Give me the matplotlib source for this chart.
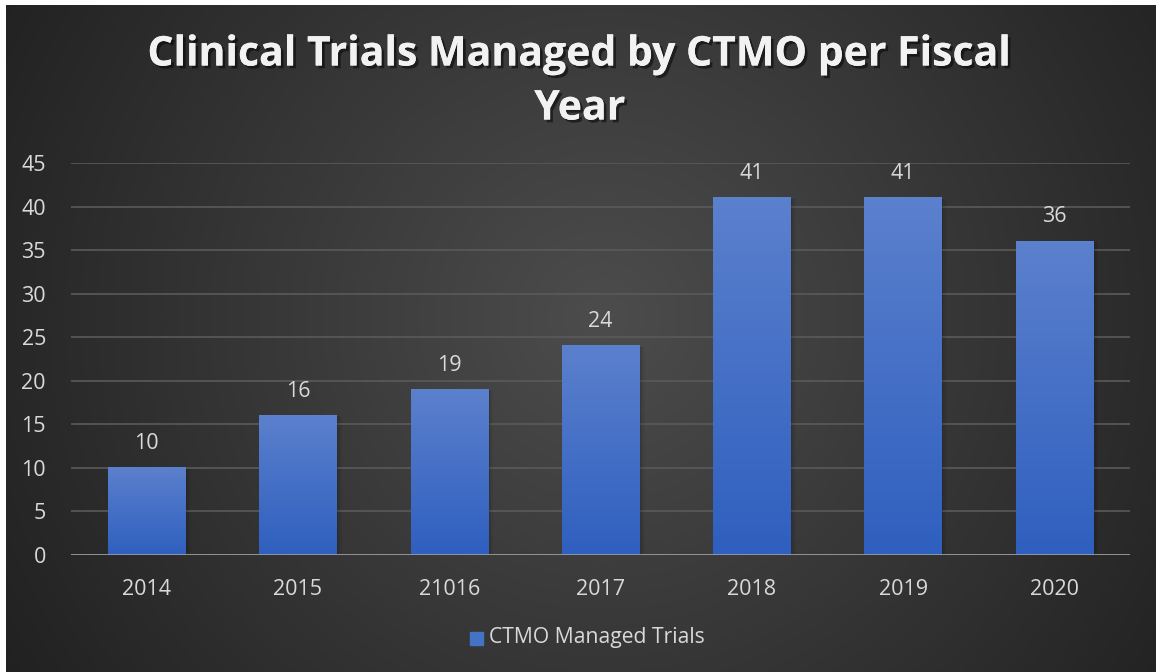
import matplotlib.pyplot as plt
import matplotlib.patheffects as pe
import numpy as np

years = ["2014", "2015", "21016", "2017", "2018", "2019", "2020"]
trials = [10, 16, 19, 24, 41, 41, 36]
series_name = "CTMO Managed Trials"
title = "Clinical Trials Managed by CTMO per Fiscal\nYear"

W, H = 1156, 672
fig = plt.figure(figsize=(W / 100, H / 100), dpi=100, facecolor="white")

# dark radial background (chart area of the original sits inside a small white margin)
bg = fig.add_axes([6 / W, 0, 1 - 6 / W, 1 - 5 / H])
yy, xx = np.mgrid[0:300, 0:520]
cx, cy = 270, 140
r = np.sqrt(((xx - cx) / 520) ** 2 + ((yy - cy) / 300) ** 2 * 0.35)
r = r / r.max()
shade = 0.30 - 0.17 * r
bg.imshow(np.dstack([shade] * 3), aspect="auto", extent=[0, 1, 0, 1])
bg.set_axis_off()

ax = fig.add_axes([71 / W, (H - 555) / H, (1130 - 71) / W, (555 - 163) / H])
ax.set_facecolor("none")
x = np.arange(len(years))
bars = ax.bar(x, trials, width=0.51, color="#4472c4", zorder=3)

# gradient fill + soft shadow on each bar
grad = np.linspace(0, 1, 100).reshape(-1, 1)
top = np.array([0x5b, 0x80, 0xcd]) / 255
bot = np.array([0x2f, 0x5f, 0xbf]) / 255
img = bot + (top - bot) * grad[:, :, None]
for b in bars:
    x0, w, h = b.get_x(), b.get_width(), b.get_height()
    for k, a in enumerate([0.10, 0.07, 0.04]):
        ax.bar(x0 + w / 2 + 0.012 * (k + 1), h - 0.1, width=w, color="black",
               alpha=a, zorder=2, linewidth=0)
    ax.imshow(img, extent=[x0, x0 + w, 0, h], aspect="auto", origin="lower", zorder=3)
    b.set_visible(False)
    ax.text(x0 + w / 2, h + 1.6, str(int(h)), ha="center", va="bottom",
            color="#d9d9d9", fontsize=15.5, family="Open Sans", zorder=4)

ax.set_xlim(-0.5, len(years) - 0.5)
ax.set_ylim(0, 45)
ax.set_yticks(range(0, 50, 5))
ax.set_xticks(x)
ax.set_xticklabels(years)
ax.yaxis.grid(True, color="#5a5a5a", linewidth=1.2, zorder=0)
ax.set_axisbelow(True)
for s in ax.spines.values():
    s.set_visible(False)
ax.axhline(0, color="#a6a6a6", linewidth=1.8, zorder=4)
ax.tick_params(length=0, colors="#d9d9d9", labelsize=15.5)
ax.tick_params(axis="x", pad=17)
ax.tick_params(axis="y", pad=18)
for t in ax.get_xticklabels() + ax.get_yticklabels():
    t.set_family("Open Sans")

fig.text(580 / W, 1 - 82 / H, title, ha="center", va="center", color="#f2f2f2",
         fontsize=29.5, fontweight="bold", family="Open Sans", linespacing=1.42,
         path_effects=[pe.withSimplePatchShadow(offset=(2, -2), shadow_rgbFace="black", alpha=0.5),
                       pe.Normal()])

# legend
fig.patches.append(plt.Rectangle((470 / W, 1 - 645 / H), 13 / W, 13 / H,
                                 transform=fig.transFigure, color="#4472c4"))
fig.text(489 / W, 1 - 638 / H, series_name, ha="left", va="center", color="#d9d9d9",
         fontsize=15.2, family="Open Sans")

fig.savefig("out.png", dpi=100, facecolor="white")
